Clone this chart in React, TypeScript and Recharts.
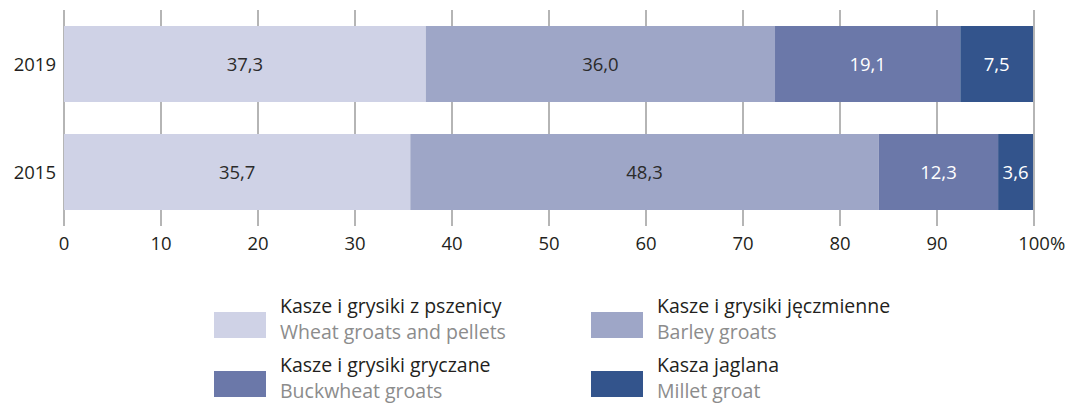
import { BarChart, Bar, XAxis, YAxis, CartesianGrid, Legend, LabelList } from 'recharts';

const years = ['2019', '2015'];
const wheat = [37.3, 35.7];
const barley = [36.0, 48.3];
const buckwheat = [19.1, 12.3];
const millet = [7.5, 3.6];
const xTicks = [0, 10, 20, 30, 40, 50, 60, 70, 80, 90, 100];

const series = [
    { key: 'wheat', values: wheat, pl: 'Kasze i grysiki z pszenicy', en: 'Wheat groats and pellets', color: '#cfd2e6', label: '#2b2b2b' },
    { key: 'barley', values: barley, pl: 'Kasze i grysiki jęczmienne', en: 'Barley groats', color: '#9ea6c7', label: '#2b2b2b' },
    { key: 'buckwheat', values: buckwheat, pl: 'Kasze i grysiki gryczane', en: 'Buckwheat groats', color: '#6b78a9', label: '#ffffff' },
    { key: 'millet', values: millet, pl: 'Kasza jaglana', en: 'Millet groat', color: '#33548c', label: '#ffffff' },
];

const data = years.map((year, i) => {
    const row: Record<string, string | number> = { year };
    series.forEach((s) => {
        row[s.key] = s.values[i];
    });
    return row;
});

const FONT = '"Open Sans", sans-serif';
const TXT = 18.5;

const fmt = (v: any) => Number(v).toFixed(1).replace('.', ',');

function XTick({ x, y, payload }: any) {
    const v = payload.value;
    return (
        <g>
            <text x={x} y={y + 16} textAnchor="middle" fontSize={TXT} fill="#231f20" fontFamily={FONT}>
                {v}
            </text>
            {v === 100 && (
                <text x={x + 16} y={y + 16} textAnchor="start" fontSize={TXT} fill="#231f20" fontFamily={FONT}>
                    %
                </text>
            )}
        </g>
    );
}

function LegendBox() {
    const cols = [214, 591];
    const rows = [312, 371];
    return (
        <div style={{ position: 'relative', width: 1069, height: 115, fontFamily: FONT }}>
            {series.map((s, i) => {
                const left = cols[i % 2];
                const top = rows[Math.floor(i / 2)] - 290;
                return (
                    <div key={s.key}>
                        <div style={{ position: 'absolute', left, top, width: 52, height: 26, background: s.color }} />
                        <div style={{ position: 'absolute', left: left + 66, top: top - 19, fontSize: 19.5, lineHeight: '26px', color: '#231f20', whiteSpace: 'nowrap' }}>
                            {s.pl}
                        </div>
                        <div style={{ position: 'absolute', left: left + 66, top: top + 7, fontSize: 19.5, lineHeight: '26px', color: '#8c8c8c', whiteSpace: 'nowrap' }}>
                            {s.en}
                        </div>
                    </div>
                );
            })}
        </div>
    );
}

export default function App() {
    return (
        <div style={{ position: 'absolute', left: 0, top: 0, width: 1069, height: 405, background: '#fff' }}>
            <BarChart
                width={1069}
                height={405}
                data={data}
                layout="vertical"
                barSize={76}
                margin={{ top: 10, right: 35, left: 0, bottom: 149 }}
            >
                <CartesianGrid horizontal={false} vertical stroke="#9d9d9d" strokeWidth={1.5} />
                <XAxis
                    type="number"
                    domain={[0, 100]}
                    ticks={xTicks}
                    axisLine={false}
                    tickLine={false}
                    height={30}
                    tick={<XTick />}
                />
                <YAxis
                    type="category"
                    dataKey="year"
                    width={64}
                    axisLine={false}
                    tickLine={false}
                    tick={{ fontSize: TXT, fill: '#231f20', fontFamily: FONT }}
                />
                <Legend
                    layout="horizontal"
                    verticalAlign="middle"
                    align="center"
                    wrapperStyle={{ left: 0, top: 290, width: 1069 }}
                    content={<LegendBox />}
                />
                {series.map((s) => (
                    <Bar key={s.key} dataKey={s.key} stackId="a" fill={s.color} isAnimationActive={false}>
                        <LabelList
                            dataKey={s.key}
                            position="center"
                            formatter={fmt}
                            fill={s.label}
                            fontSize={TXT}
                            fontFamily={FONT}
                        />
                    </Bar>
                ))}
            </BarChart>
        </div>
    );
}
